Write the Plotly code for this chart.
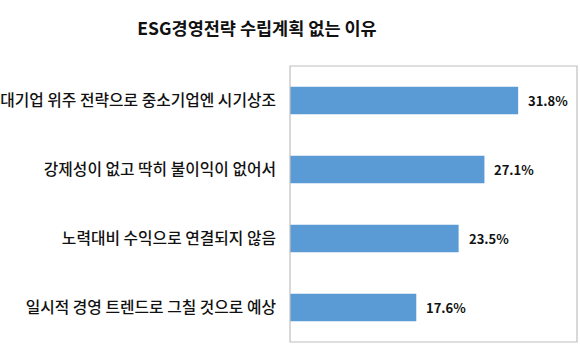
import plotly.graph_objects as go

title_text = "ESG경영전략 수립계획 없는 이유"
categories = [
    "대기업 위주 전략으로 중소기업엔 시기상조",
    "강제성이 없고 딱히 불이익이 없어서",
    "노력대비 수익으로 연결되지 않음",
    "일시적 경영 트렌드로 그칠 것으로 예상",
]
values = [31.8, 27.1, 23.5, 17.6]

FONT = "Noto Sans CJK KR"

fig = go.Figure()
fig.add_trace(go.Bar(
    x=values,
    y=categories,
    orientation="h",
    width=0.4,
    marker=dict(color="#5B9BD5", line=dict(width=0)),
    hoverinfo="skip",
))

for v, c in zip(values, categories):
    fig.add_annotation(
        x=v, y=c, xref="x", yref="y",
        text=f"<b>{v}%</b>",
        showarrow=False, xanchor="left", xshift=8,
        font=dict(family=FONT, size=13, color="#111111"),
    )

# plot-area frame
fig.add_shape(type="rect", xref="paper", yref="paper", x0=0, x1=1, y0=0, y1=1,
              line=dict(color="#BFBFBF", width=1.2), fillcolor="rgba(0,0,0,0)", layer="above")

fig.update_layout(
    width=580, height=360,
    margin=dict(l=290, r=3, t=66, b=18, pad=0, autoexpand=False),
    paper_bgcolor="white",
    plot_bgcolor="white",
    showlegend=False,
    title=dict(
        text=f"<b>{title_text}</b>",
        x=257 / 580, xref="container", xanchor="center",
        y=1 - 29 / 360, yref="container", yanchor="middle",
        font=dict(family=FONT, size=17.5, color="#111111"),
    ),
    xaxis=dict(
        range=[0, 40], showgrid=False, zeroline=False, showticklabels=False,
        showline=False, ticks="", automargin=False,
    ),
    yaxis=dict(
        autorange="reversed", showgrid=False, zeroline=False,
        showline=False, ticks="", ticklabelstandoff=13, automargin=False,
        tickfont=dict(family=FONT, size=15.8, color="#111111", weight=500),
    ),
)

fig.write_html(
    "out.html",
    config={"displayModeBar": False},
    post_script="document.body.style.margin='0';document.body.style.overflow='hidden';",
)
